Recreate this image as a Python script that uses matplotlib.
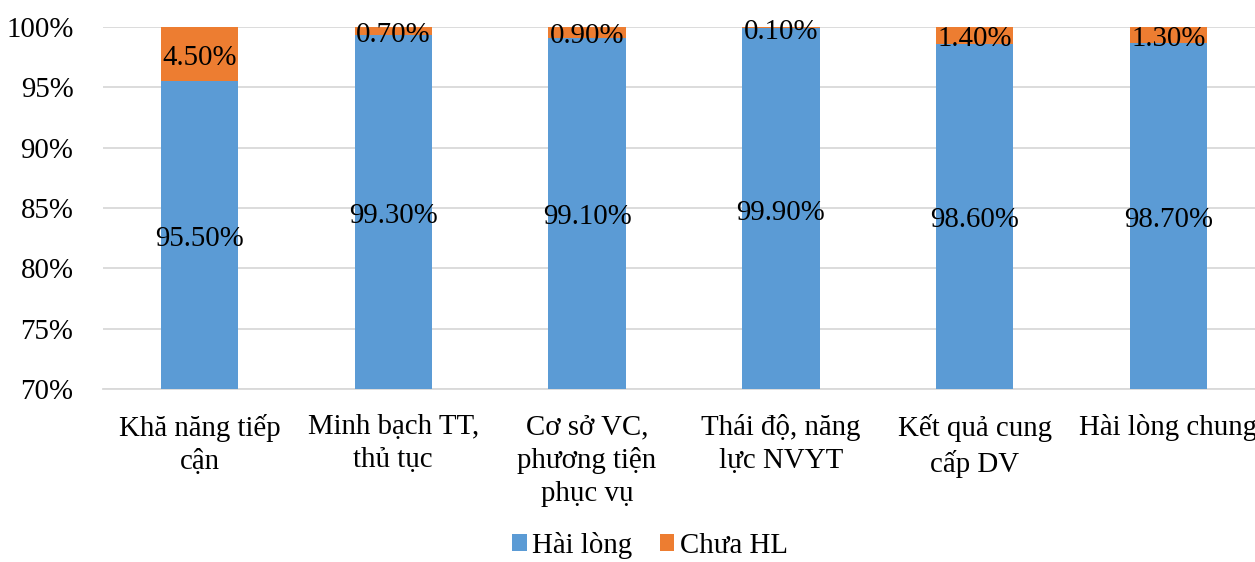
import matplotlib.pyplot as plt
import matplotlib.transforms as mtransforms
import numpy as np

categories = ["Khă năng tiếp\ncận", "Minh bạch TT,\nthủ tục", "Cơ sở VC,\nphương tiện\nphục vụ",
              "Thái độ, năng\nlực NVYT", "Kết quả cung\ncấp DV", "Hài lòng chung"]
hai_long = [95.5, 99.3, 99.1, 99.9, 98.6, 98.7]
chua_hl = [4.5, 0.7, 0.9, 0.1, 1.4, 1.3]
yticks = [70, 75, 80, 85, 90, 95, 100]

plt.rcParams['font.family'] = ['Liberation Serif', 'DejaVu Serif']
fs = 20.8

fig = plt.figure(figsize=(12.55, 5.62), dpi=100)
ax = fig.add_axes([0.0818, 0.3078, 0.9263, 0.6441])

x = np.arange(len(categories))
blue = "#5B9BD5"
orange = "#ED7D31"
b1 = ax.bar(x, hai_long, width=0.4, color=blue, label="Hài lòng", zorder=3)
b2 = ax.bar(x, chua_hl, width=0.4, bottom=hai_long, color=orange, label="Chưa HL", zorder=3)

ymin = 70
# value labels sit a few pixels below the segment middle
lab_tr = mtransforms.offset_copy(ax.transData, fig=fig, x=0, y=-4, units="dots")
for i in range(len(x)):
    ax.text(x[i], (ymin + hai_long[i]) / 2, "%.2f%%" % hai_long[i], ha="center", va="center",
            fontsize=fs, zorder=4, transform=lab_tr)
    ax.text(x[i], hai_long[i] + chua_hl[i] / 2, "%.2f%%" % chua_hl[i], ha="center", va="center",
            fontsize=fs, zorder=4, transform=lab_tr)

ax.set_xlim(-0.5, len(categories) - 0.5)
ax.set_ylim(ymin, 100)
ax.set_yticks(yticks)
ax.set_yticklabels(["%d%%" % t for t in yticks], fontsize=fs)
ax.set_xticks(x)
ax.set_xticklabels(categories, fontsize=fs, linespacing=1.35, va="top")
ax.tick_params(axis="both", length=0)
ax.tick_params(axis="y", pad=21)
ax.tick_params(axis="x", pad=18)
ax.grid(axis="y", color="#D9D9D9", linewidth=1.3, zorder=0)
for s in ["top", "right", "left"]:
    ax.spines[s].set_visible(False)
ax.spines["bottom"].set_color("#D9D9D9")
ax.spines["bottom"].set_linewidth(1.3)

fig.legend(handles=[b1, b2], loc="center", bbox_to_anchor=(0.518, 0.03), ncol=2, frameon=False,
           fontsize=fs, handlelength=0.5, handleheight=0.5, handletextpad=0.2, columnspacing=0.95)

fig.savefig("out.png", dpi=100)
